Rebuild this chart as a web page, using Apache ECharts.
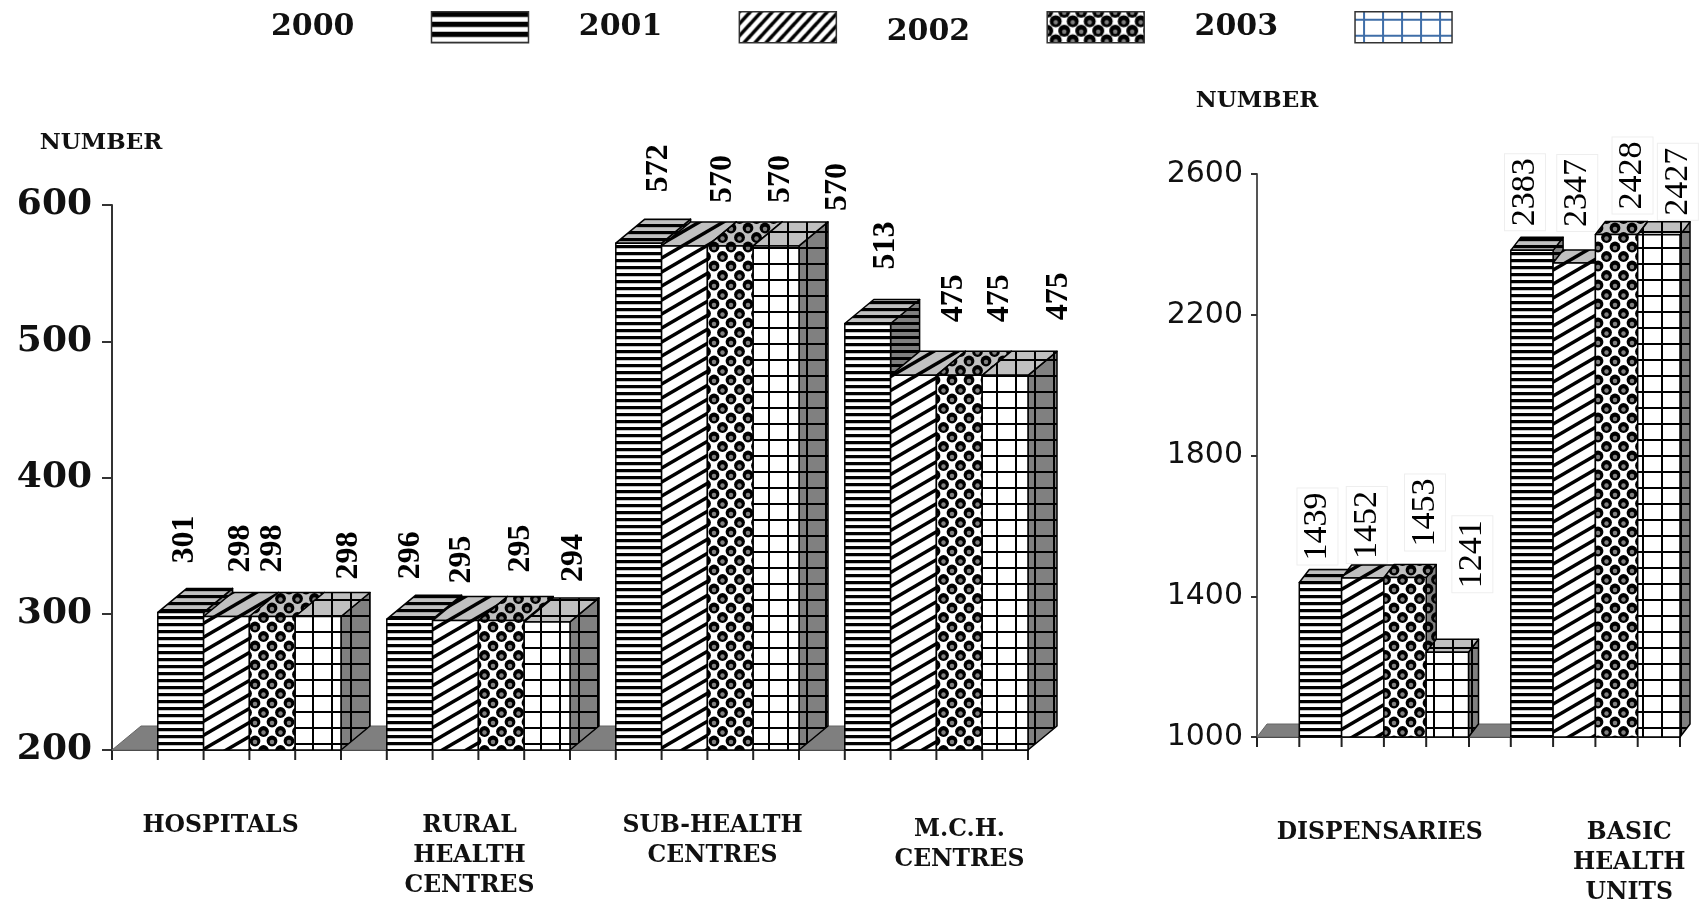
<!DOCTYPE html>
<html><head><meta charset="utf-8">
<style>html,body{margin:0;padding:0;background:#fff}#c{width:1701px;height:902px}</style>
<script src="https://cdn.jsdelivr.net/npm/echarts@6/dist/echarts.min.js"></script>
</head><body><div id="c"></div>
<script>
const years = ['2000','2001','2002','2003'];
const leftCategories = ['HOSPITALS','RURAL\nHEALTH\nCENTRES','SUB-HEALTH\nCENTRES','M.C.H.\nCENTRES'];
const rightCategories = ['DISPENSARIES','BASIC\nHEALTH\nUNITS'];
const left2000 = [301,296,572,513];
const left2001 = [298,295,570,475];
const left2002 = [298,295,570,475];
const left2003 = [298,294,570,475];
const right2000 = [1439,2383];
const right2001 = [1452,2347];
const right2002 = [1453,2428];
const right2003 = [1241,2427];
const leftTicks = {min:200,max:600,interval:100};
const rightTicks = {min:1000,max:2600,interval:400};

// label nudges in px from bar centre / bar top: [series][category]
const leftNudgeX = [[4,1,20,18],[14,6,38,40],[0,19,50,40],[31,27,62,54]];
const leftNudgeY = [[-73,-64,-75,-78],[-68,-61,-67,-77],[-68,-72,-67,-77],[-61,-64,-59,-79]];
const rightNudgeX = [[-3,-7],[4,3],[20,16],[25,19]];
const rightNudgeY = [[-56,-58],[-53,-70],[-65,-59],[-98,-53]];

function tile(w,h,bg,draw){
  const c=document.createElement('canvas');c.width=w;c.height=h;
  const g=c.getContext('2d');g.fillStyle=bg;g.fillRect(0,0,w,h);draw(g,w,h);
  return {image:c,repeat:'repeat'};
}
function stripes(bg,h,thick){
  return tile(8,h,bg,(g,w)=>{g.fillStyle='#000';g.fillRect(0,0,w,thick);g.fillStyle='rgba(120,120,120,.45)';g.fillRect(0,thick,w,1);});
}
function diagonal(bg,W,H,lw){
  return tile(W,H,bg,(g,w,h)=>{g.strokeStyle='#000';g.lineWidth=lw;
    [-h,0,h].forEach(o=>{g.beginPath();g.moveTo(-w,2*h+o);g.lineTo(2*w,-h+o);g.stroke();});});
}
function dots(bg,r){
  return tile(17,19,bg,(g,w,h)=>{
    const dot=(x,y)=>{g.fillStyle='#000';g.beginPath();g.arc(x,y,r,0,7);g.fill();
      g.fillStyle='#808080';g.beginPath();g.arc(x,y+1,2.2,0,7);g.fill();};
    [[0,0],[w,0],[0,h],[w,h],[w/2,h/2]].forEach(p=>dot(p[0],p[1]));});
}
function lattice(bg,ink){
  return tile(19,16,bg,(g,w,h)=>{g.fillStyle=ink;g.fillRect(8,0,2,h);g.fillRect(0,7,w,2);});
}
function pattern(s,bg){
  if(s===0) return stripes(bg,7,3);
  if(s===1) return diagonal(bg,24,14,3.5);
  if(s===2) return dots(bg,5.4);
  return lattice(bg,'#000');
}
const fronts=[0,1,2,3].map(s=>pattern(s,'#ffffff'));
const tops=[0,1,2,3].map(s=>pattern(s,'#c0c0c0'));
const sides=[0,1,2,3].map(s=>pattern(s,'#808080'));
const legendSwatch=[stripes('#fff',10,5),diagonal('#fff',11,12,3.5),dots('#fff',6),lattice('#fff','#3f6ea8')];

function poly(points,fill,lw){
  return {type:'polygon',shape:{points:points},style:{fill:fill,stroke:'#000',lineWidth:lw||1.5,lineJoin:'round'}};
}
function renderer(s,cfg){
  return function(params,api){
    const cat=api.value(0),v=api.value(1);
    const p=api.coord([cat,v]);const base=api.coord([cat,cfg.min]);
    const band=api.size([1,0])[0];const w=band/5;const bandLeft=p[0]-band/2;
    const x=bandLeft+w*(1+s),y=p[1],y0=base[1],dx=cfg.dx,dy=cfg.dy;
    const kids=[];
    if(s===0){
      kids.push({type:'polygon',shape:{points:[[bandLeft,y0],[bandLeft+dx,y0-dy],[x,y0-dy],[x,y0]]},style:{fill:'#7f7f7f',stroke:'#666',lineWidth:1}});
    }
    kids.push(poly([[x+w,y],[x+w+dx,y-dy],[x+w+dx,y0-dy],[x+w,y0]],sides[s]));
    kids.push(poly([[x,y],[x+dx,y-dy],[x+w+dx,y-dy],[x+w,y]],tops[s]));
    kids.push(poly([[x,y],[x+w,y],[x+w,y0],[x,y0]],fronts[s]));
    kids.push({type:'line',shape:{x1:x,y1:y0,x2:x,y2:y0+10},style:{stroke:'#222',lineWidth:2}});
    const ts={text:String(v),font:cfg.labelFont,fill:'#000',align:'center',verticalAlign:'middle'};
    if(cfg.boxed){ts.backgroundColor='#fff';ts.borderColor='#eeeeee';ts.borderWidth=1;ts.padding=[3,4];}
    kids.push({type:'text',z2:100,x:x+w/2+cfg.nx[s][cat],y:y+cfg.ny[s][cat],rotation:Math.PI/2,style:ts});
    return {type:'group',children:kids};
  };
}
const leftCfg={min:leftTicks.min,dx:29,dy:24,nx:leftNudgeX,ny:leftNudgeY,labelFont:'bold 32px "Liberation Serif"',boxed:false};
const rightCfg={min:rightTicks.min,dx:10,dy:13,nx:rightNudgeX,ny:rightNudgeY,labelFont:'34px "Liberation Serif"',boxed:true};

function pairs(a){return a.map((v,i)=>[i,v]);}
const leftData=[left2000,left2001,left2002,left2003];
const rightData=[right2000,right2001,right2002,right2003];
const series=[];
years.forEach((name,s)=>{
  series.push({type:'custom',name:name,xAxisIndex:0,yAxisIndex:0,data:pairs(leftData[s]),encode:{x:0,y:1},
    renderItem:renderer(s,leftCfg),silent:true,itemStyle:{color:legendSwatch[s]},z:2+s});
});
years.forEach((name,s)=>{
  series.push({type:'custom',name:name,xAxisIndex:1,yAxisIndex:1,data:pairs(rightData[s]),encode:{x:0,y:1},
    renderItem:renderer(s,rightCfg),silent:true,itemStyle:{color:legendSwatch[s]},z:2+s});
});

const catFont={fontFamily:'DejaVu Serif',fontWeight:'bold',fontSize:23.5,color:'#111',lineHeight:30};
function catRich(pads){
  const r={};pads.forEach((p,i)=>{r['c'+i]=Object.assign({},catFont,{padding:p});});return r;
}
function catFormatter(cats){
  return function(val){
    const i=cats.indexOf(val);
    return val.split('\n').map(l=>'{c'+i+'|'+l+'}').join('\n');
  };
}
const axisLine={show:true,lineStyle:{color:'#333',width:2}};
const legendFont={fontFamily:'DejaVu Serif',fontWeight:'bold',fontSize:30,color:'#111'};
const option={
  animation:false,backgroundColor:'#fff',
  legend:{
    left:266,top:6,itemWidth:97,itemHeight:31,itemGap:49.6,align:'right',selectedMode:false,orient:'horizontal',
    formatter:n=>n==='2002'?'{low|2002}':n,
    textStyle:Object.assign({},legendFont,{padding:[0,72,0,0],
      rich:{low:Object.assign({},legendFont,{padding:[9,0,0,0]})}}),
    data:years.map((n,s)=>({name:n,icon:'rect',
      itemStyle:{color:legendSwatch[s],borderColor:'#333',borderWidth:1.5}}))
  },
  grid:[{left:112,width:916,top:205,height:545,outerBoundsMode:'none'},{left:1257,width:423,top:174,height:563,outerBoundsMode:'none'}],
  xAxis:[
    {type:'category',gridIndex:0,data:leftCategories,boundaryGap:true,axisLine:axisLine,
     axisTick:{show:true,length:10,alignWithLabel:false,lineStyle:{color:'#222',width:2}},
     axisLabel:{interval:0,margin:61,formatter:catFormatter(leftCategories),
       rich:catRich([[0,12,0,0],[0,0,0,28],[0,0,0,56],[8,0,0,92]])}},
    {type:'category',gridIndex:1,data:rightCategories,boundaryGap:true,axisLine:axisLine,
     axisTick:{show:true,length:10,alignWithLabel:false,lineStyle:{color:'#222',width:2}},
     axisLabel:{interval:0,margin:81,formatter:catFormatter(rightCategories),
       rich:catRich([[0,0,0,34],[0,0,0,110]])}}
  ],
  yAxis:[
    {type:'value',gridIndex:0,min:leftTicks.min,max:leftTicks.max,interval:leftTicks.interval,
     name:'NUMBER',nameLocation:'end',nameGap:50,
     nameTextStyle:{fontFamily:'DejaVu Serif',fontWeight:'bold',fontSize:23,color:'#111',padding:[0,22,0,0]},
     axisLine:axisLine,axisTick:{show:true,length:10,lineStyle:{color:'#333',width:2}},splitLine:{show:false},
     axisLabel:{fontFamily:'DejaVu Serif',fontWeight:'bold',fontSize:36,color:'#111',margin:20,padding:[8,0,0,0]}},
    {type:'value',gridIndex:1,min:rightTicks.min,max:rightTicks.max,interval:rightTicks.interval,
     name:'NUMBER',nameLocation:'end',nameGap:61,
     nameTextStyle:{fontFamily:'DejaVu Serif',fontWeight:'bold',fontSize:23,color:'#111'},
     axisLine:{show:true,lineStyle:{color:'#555',width:2}},axisTick:{show:true,length:6,lineStyle:{color:'#333',width:2}},splitLine:{show:false},
     axisLabel:{fontFamily:'DejaVu Sans',fontSize:30,color:'#111',margin:14,padding:[6,0,0,0],formatter:v=>String(v)}}
  ],
  series:series
};
const chart=echarts.init(document.getElementById('c'),null,{renderer:'canvas',width:1701,height:902});
chart.setOption(option);
</script></body></html>
